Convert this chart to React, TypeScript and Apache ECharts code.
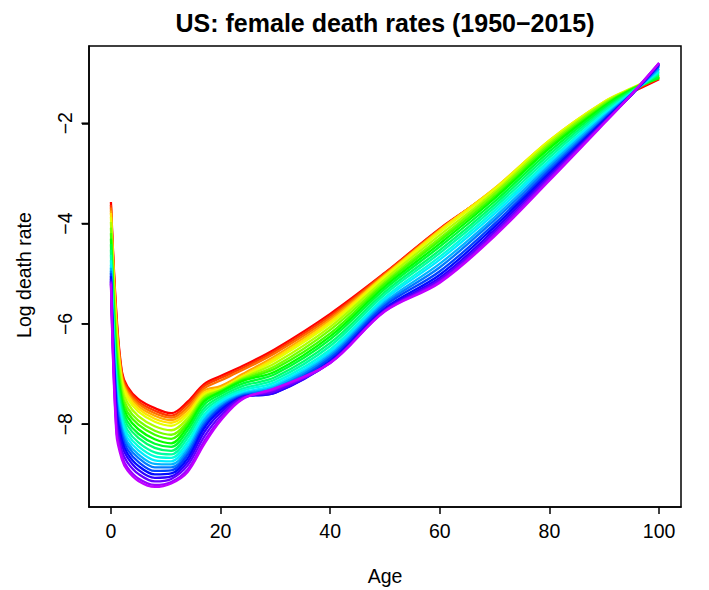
import { useEffect, useRef } from "react";
import * as echarts from "echarts";

const ages = [0, 1, 2, 3, 5, 8, 11, 14, 17, 20, 24, 30, 40, 50, 60, 70, 80, 90, 95, 100];

const years = [
  1950, 1953, 1956, 1959, 1962, 1965, 1968, 1971, 1974, 1977, 1980, 1983,
  1986, 1989, 1992, 1995, 1998, 2001, 2004, 2007, 2010, 2013, 2015,
];

const rates1950 = [-3.57, -5.8, -6.95, -7.25, -7.5, -7.68, -7.78, -7.55, -7.2, -7.04, -6.84, -6.5, -5.8, -4.98, -4.1, -3.33, -2.38, -1.62, -1.38, -1.12];
const rates1953 = [-3.63, -5.86, -6.99, -7.29, -7.55, -7.73, -7.83, -7.6, -7.24, -7.08, -6.88, -6.54, -5.84, -4.99, -4.11, -3.32, -2.37, -1.61, -1.36, -1.1];
const rates1956 = [-3.68, -5.93, -7.04, -7.34, -7.59, -7.78, -7.87, -7.66, -7.29, -7.13, -6.92, -6.58, -5.88, -5.01, -4.12, -3.31, -2.36, -1.59, -1.34, -1.09];
const rates1959 = [-3.74, -5.99, -7.08, -7.38, -7.64, -7.83, -7.92, -7.71, -7.33, -7.24, -7.0, -6.64, -5.92, -5.03, -4.13, -3.3, -2.35, -1.58, -1.33, -1.07];
const rates1962 = [-3.79, -6.06, -7.12, -7.42, -7.69, -7.89, -7.97, -7.77, -7.37, -7.28, -7.04, -6.68, -5.96, -5.04, -4.14, -3.3, -2.34, -1.57, -1.31, -1.06];
const rates1965 = [-3.87, -6.15, -7.18, -7.48, -7.75, -7.95, -8.03, -7.82, -7.41, -7.3, -7.06, -6.72, -6.0, -5.07, -4.17, -3.32, -2.34, -1.57, -1.3, -1.05];
const rates1968 = [-3.97, -6.29, -7.27, -7.57, -7.84, -8.04, -8.12, -7.88, -7.45, -7.32, -7.08, -6.78, -6.06, -5.11, -4.23, -3.37, -2.38, -1.59, -1.31, -1.07];
const rates1971 = [-4.08, -6.42, -7.37, -7.67, -7.93, -8.13, -8.21, -7.94, -7.48, -7.33, -7.1, -6.84, -6.12, -5.16, -4.29, -3.41, -2.42, -1.61, -1.32, -1.08];
const rates1974 = [-4.19, -6.56, -7.46, -7.76, -8.01, -8.21, -8.29, -7.99, -7.52, -7.35, -7.12, -6.89, -6.19, -5.2, -4.34, -3.46, -2.46, -1.64, -1.32, -1.09];
const rates1977 = [-4.3, -6.7, -7.55, -7.85, -8.1, -8.3, -8.38, -8.05, -7.55, -7.36, -7.14, -6.95, -6.25, -5.25, -4.4, -3.5, -2.5, -1.66, -1.33, -1.1];
const rates1980 = [-4.41, -6.82, -7.64, -7.94, -8.19, -8.39, -8.45, -8.12, -7.61, -7.4, -7.19, -7.0, -6.31, -5.3, -4.46, -3.56, -2.56, -1.69, -1.35, -1.07];
const rates1983 = [-4.52, -6.94, -7.72, -8.02, -8.27, -8.47, -8.53, -8.2, -7.68, -7.45, -7.24, -7.06, -6.38, -5.36, -4.53, -3.62, -2.62, -1.73, -1.36, -1.03];
const rates1986 = [-4.62, -7.05, -7.81, -8.11, -8.36, -8.56, -8.6, -8.27, -7.74, -7.49, -7.29, -7.11, -6.44, -5.41, -4.59, -3.68, -2.68, -1.76, -1.38, -1.0];
const rates1989 = [-4.73, -7.17, -7.89, -8.19, -8.44, -8.64, -8.67, -8.35, -7.81, -7.53, -7.33, -7.16, -6.51, -5.47, -4.66, -3.74, -2.74, -1.8, -1.39, -0.97];
const rates1992 = [-4.82, -7.29, -7.98, -8.27, -8.52, -8.72, -8.74, -8.42, -7.87, -7.57, -7.37, -7.21, -6.56, -5.51, -4.72, -3.8, -2.79, -1.83, -1.4, -0.94];
const rates1995 = [-4.88, -7.4, -8.07, -8.35, -8.6, -8.79, -8.8, -8.49, -7.92, -7.61, -7.4, -7.25, -6.61, -5.56, -4.8, -3.87, -2.84, -1.86, -1.41, -0.91];
const rates1998 = [-4.94, -7.5, -8.15, -8.42, -8.67, -8.86, -8.86, -8.55, -7.98, -7.65, -7.42, -7.29, -6.65, -5.6, -4.87, -3.93, -2.89, -1.89, -1.42, -0.88];
const rates2001 = [-4.99, -7.61, -8.23, -8.5, -8.75, -8.93, -8.92, -8.61, -8.03, -7.68, -7.44, -7.33, -6.69, -5.64, -4.95, -4.0, -2.94, -1.92, -1.42, -0.85];
const rates2004 = [-5.05, -7.72, -8.32, -8.58, -8.83, -9.0, -8.98, -8.68, -8.08, -7.72, -7.46, -7.37, -6.74, -5.69, -5.02, -4.06, -2.99, -1.94, -1.43, -0.83];
const rates2007 = [-5.1, -7.84, -8.42, -8.66, -8.91, -9.07, -9.04, -8.75, -8.16, -7.77, -7.46, -7.37, -6.76, -5.71, -5.08, -4.12, -3.03, -1.96, -1.43, -0.82];
const rates2010 = [-5.14, -7.98, -8.53, -8.76, -8.99, -9.14, -9.09, -8.82, -8.25, -7.83, -7.47, -7.34, -6.77, -5.73, -5.12, -4.17, -3.07, -1.98, -1.43, -0.81];
const rates2013 = [-5.17, -8.11, -8.63, -8.86, -9.08, -9.21, -9.15, -8.9, -8.34, -7.89, -7.49, -7.3, -6.78, -5.74, -5.16, -4.22, -3.11, -1.99, -1.42, -0.8];
const rates2015 = [-5.2, -8.2, -8.7, -8.92, -9.13, -9.25, -9.18, -8.95, -8.4, -7.93, -7.5, -7.28, -6.78, -5.75, -5.18, -4.25, -3.14, -2.0, -1.42, -0.8];

const curves = [
  rates1950, rates1953, rates1956, rates1959, rates1962, rates1965, rates1968,
  rates1971, rates1974, rates1977, rates1980, rates1983, rates1986, rates1989,
  rates1992, rates1995, rates1998, rates2001, rates2004, rates2007, rates2010,
  rates2013, rates2015,
];

const xTicks = [0, 20, 40, 60, 80, 100];
const yTicks = [-8, -6, -4, -2];

const X_MIN = -4;
const X_MAX = 104;
const Y_MIN = -9.65;
const Y_MAX = -0.46;

const FONT = '"Liberation Sans", Arial, Helvetica, sans-serif';

function rainbowColor(year: number): string {
  // R rainbow palette: hue runs from red towards violet across the years
  const h = ((year - 1950) / 82) * 6;
  const i = Math.floor(h);
  const f = h - i;
  const q = 1 - f;
  let r = 0, g = 0, b = 0;
  switch (i % 6) {
    case 0: r = 1; g = f; b = 0; break;
    case 1: r = q; g = 1; b = 0; break;
    case 2: r = 0; g = 1; b = f; break;
    case 3: r = 0; g = q; b = 1; break;
    case 4: r = f; g = 0; b = 1; break;
    default: r = 1; g = 0; b = q; break;
  }
  const to = (v: number) => Math.round(v * 255);
  return `rgb(${to(r)},${to(g)},${to(b)})`;
}

const minusLabel = (v: number) => (v < 0 ? "\u2212" + Math.abs(v) : String(v));

export default function App() {
  const ref = useRef<HTMLDivElement>(null);

  useEffect(() => {
    if (!ref.current) return;
    const chart = echarts.init(ref.current, null, { renderer: "svg" });
    chart.setOption({
      animation: false,
      backgroundColor: "#ffffff",
      grid: {
        left: 89,
        right: 28,
        top: 46,
        bottom: 83,
        show: true,
        borderColor: "#000",
        borderWidth: 1.5,
        backgroundColor: "transparent",
        containLabel: false,
      },
      xAxis: {
        type: "value",
        position: "bottom",
        min: X_MIN,
        max: X_MAX,
        axisLine: { show: true, onZero: false, lineStyle: { color: "#000", width: 1.5 } },
        splitLine: { show: false },
        axisTick: {
          show: true,
          length: 7,
          customValues: xTicks,
          lineStyle: { color: "#000", width: 1.5 },
        },
        axisLabel: {
          customValues: xTicks,
          margin: 14,
          fontSize: 19.5,
          color: "#000",
          fontFamily: FONT,
        },
      },
      yAxis: {
        type: "value",
        position: "left",
        min: Y_MIN,
        max: Y_MAX,
        axisLine: { show: true, onZero: false, lineStyle: { color: "#000", width: 1.5 } },
        splitLine: { show: false },
        axisTick: {
          show: true,
          length: 7,
          customValues: yTicks,
          lineStyle: { color: "#000", width: 1.5 },
        },
        axisLabel: { show: false },
      },
      series: curves.map((vals, k) => ({
        type: "line",
        name: String(years[k]),
        data: ages.map((a, j) => [a, vals[j]]),
        symbol: "none",
        smooth: 0.35,
        silent: true,
        emphasis: { disabled: true },
        lineStyle: { color: rainbowColor(years[k]), width: 2.3 },
      })),
    });

    // y-axis tick marks and rotated tick labels, positioned through the y scale
    const yEls: any[] = [];
    yTicks.forEach((v) => {
      const p = chart.convertToPixel({ xAxisIndex: 0, yAxisIndex: 0 }, [X_MIN, v]) as number[];
      yEls.push({
        type: "line",
        z: 100,
        silent: true,
        shape: { x1: p[0] - 7.5, y1: p[1], x2: p[0], y2: p[1] },
        style: { stroke: "#000", lineWidth: 1.6 },
      });
      yEls.push({
        type: "text",
        z: 100,
        silent: true,
        x: p[0] - 24.5,
        y: p[1],
        rotation: Math.PI / 2,
        style: {
          text: minusLabel(v),
          fontSize: 19.5,
          fontFamily: FONT,
          fill: "#000",
          align: "center",
          verticalAlign: "middle",
        },
      });
    });

    chart.setOption({
      graphic: [
        {
          type: "text",
          x: 385,
          y: 23,
          style: {
            text: "US: female death rates (1950\u22122015)",
            fontSize: 25,
            fontWeight: "bold",
            fontFamily: FONT,
            fill: "#000",
            align: "center",
            verticalAlign: "middle",
          },
        },
        {
          type: "text",
          x: 385,
          y: 576,
          style: {
            text: "Age",
            fontSize: 19.5,
            fontFamily: FONT,
            fill: "#000",
            align: "center",
            verticalAlign: "middle",
          },
        },
        {
          type: "text",
          x: 24,
          y: 275,
          rotation: Math.PI / 2,
          style: {
            text: "Log death rate",
            fontSize: 19.5,
            fontFamily: FONT,
            fill: "#000",
            align: "center",
            verticalAlign: "middle",
          },
        },
        ...yEls,
      ],
    });
    return () => chart.dispose();
  }, []);

  return (
    <div
      ref={ref}
      style={{ position: "fixed", left: 0, top: 0, width: 709, height: 590 }}
    />
  );
}
